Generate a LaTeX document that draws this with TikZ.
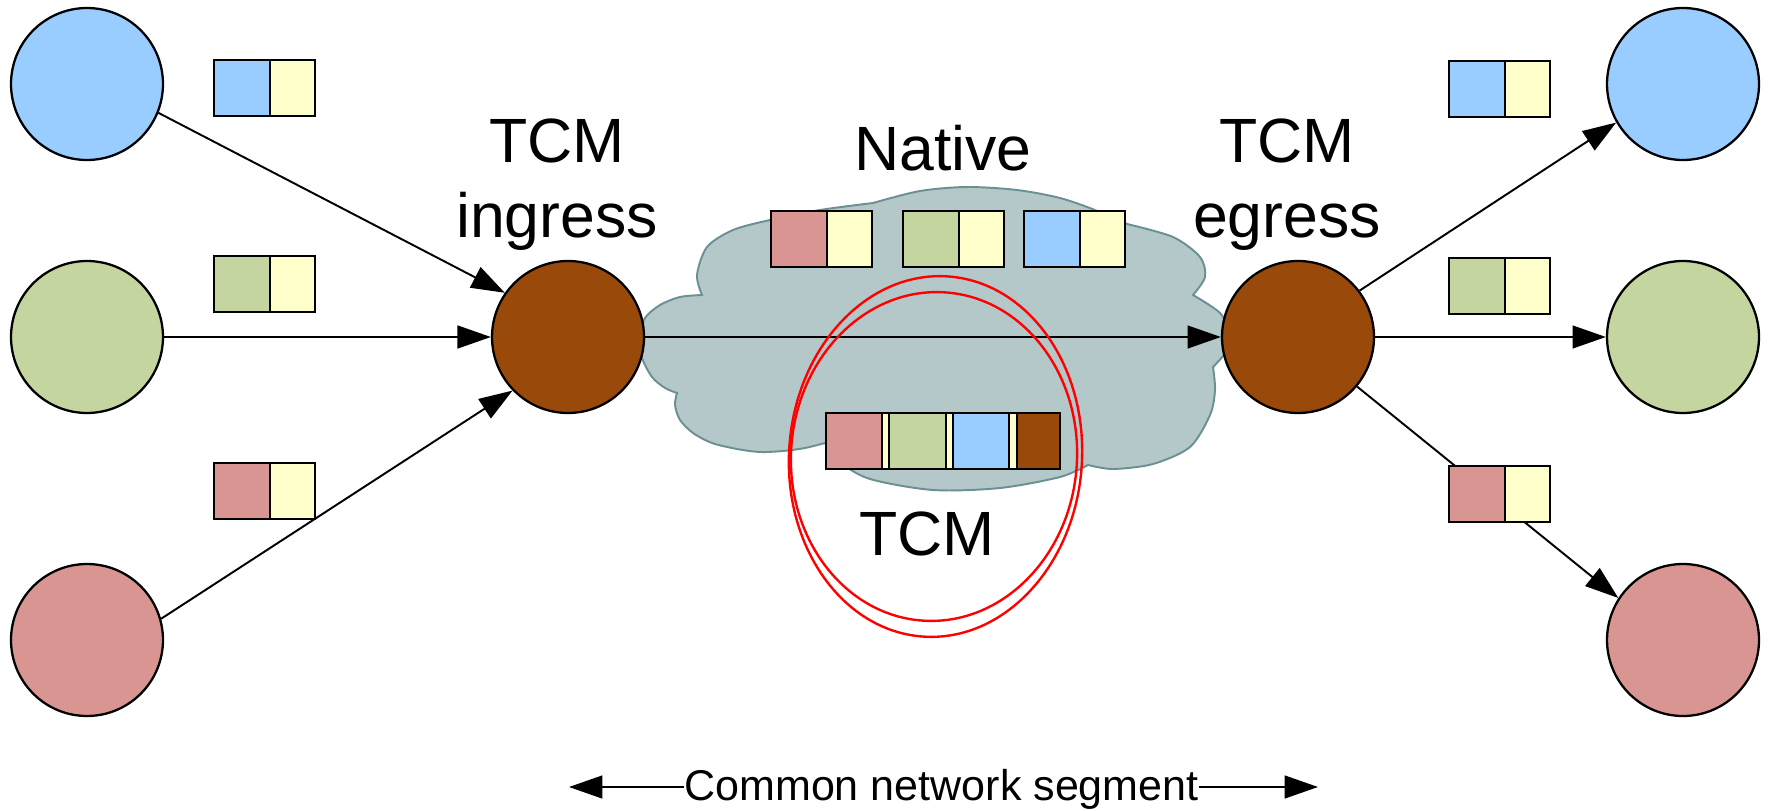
\documentclass[tikz,border=0pt]{standalone}
\usepackage{fontspec}
\setmainfont{Liberation Sans}
\usetikzlibrary{arrows.meta}
\definecolor{cBlue}{RGB}{153,204,255}
\definecolor{cGreen}{RGB}{196,213,160}
\definecolor{cRed}{RGB}{217,149,146}
\definecolor{cYel}{RGB}{255,255,204}
\definecolor{cBrown}{RGB}{153,73,10}
\definecolor{cloudF}{RGB}{180,199,201}
\definecolor{cloudE}{RGB}{107,144,148}
\newcommand{\twocell}[3]{%
  \draw[pk,fill=#3] (#1,#2) rectangle ++(56,56);
  \draw[pk,fill=cYel] (#1,#2) ++(56,0) rectangle ++(45,56);}
\begin{document}
\begin{tikzpicture}[x=0.02cm,y=-0.02cm,
  host/.style={circle,draw=black,line width=1.3pt,minimum size=3.04cm,inner sep=0pt},
  conn/.style={line width=1.1pt,-{Triangle[length=19pt,width=13pt]}},
  pk/.style={draw=black,line width=1.3pt},
  big/.style={font=\fontsize{35.6}{42.5}\selectfont,inner sep=0pt,anchor=base},
  ring/.style={draw=red,line width=1.35pt}]
\useasboundingbox (0,0) rectangle (1771,811);
% cloud
\filldraw[fill=cloudF,draw=cloudE,line width=1.1pt]
  plot[smooth] coordinates {(873,203) (820,210) (770,220) (733,230) (707,247) (697,275) (702,295)}
  -- plot[smooth] coordinates {(702,295) (680,297) (660,305) (645,318) (639,338) (642,358) (652,377) (665,388) (677,393)}
  -- plot[smooth] coordinates {(677,393) (675,405) (680,420) (693,433) (712,443) (737,449) (760,452) (783,451) (805,448) (825,443)}
  -- plot[smooth] coordinates {(825,443) (840,462) (870,479) (933,490) (1000,488) (1060,477) (1088,465)}
  -- plot[smooth] coordinates {(1088,465) (1113,469) (1153,464) (1190,447) (1210,415) (1215,390) (1213,367)}
  -- plot[smooth] coordinates {(1213,367) (1226,352) (1231,335) (1220,313) (1193,295)}
  -- plot[smooth] coordinates {(1193,295) (1205,277) (1200,257) (1173,237) (1127,224)}
  -- plot[smooth] coordinates {(1127,224) (1095,210) (1060,198) (1017,190) (967,187) (920,191) (873,203)}
  -- cycle;
% hosts
\node[host,fill=cBlue]  (bl)  at (87,84)   {};
\node[host,fill=cGreen] (gl)  at (87,337)  {};
\node[host,fill=cRed]   (rl)  at (87,640)  {};
\node[host,fill=cBrown] (ing) at (568,337) {};
\node[host,fill=cBrown] (egr) at (1298,337) {};
\node[host,fill=cBlue]  (br)  at (1683,84)  {};
\node[host,fill=cGreen] (gr)  at (1683,337) {};
\node[host,fill=cRed]   (rr)  at (1683,640) {};
% connectors
\draw[conn] (bl.-22) -- (ing.145);
\draw[conn] (gl) -- (ing);
\draw[conn] (rl.16) -- (ing.224);
\draw[conn] (ing) -- (egr);
\draw[conn] (egr.37) -- (br.210);
\draw[conn] (egr) -- (gr);
\draw[conn] (egr.-40) -- (rr.147);
% packets
\twocell{214}{60}{cBlue}
\twocell{214}{256}{cGreen}
\twocell{214}{463}{cRed}
\twocell{1449}{61}{cBlue}
\twocell{1449}{258}{cGreen}
\twocell{1449}{466}{cRed}
\twocell{771}{211}{cRed}
\twocell{903}{211}{cGreen}
\twocell{1024}{211}{cBlue}
% TCM packet
\draw[pk,fill=cRed] (826,413) rectangle (882,469);
\draw[pk,fill=cYel] (882,413) rectangle (889,469);
\draw[pk,fill=cGreen] (889,413) rectangle (946,469);
\draw[pk,fill=cYel] (946,413) rectangle (953,469);
\draw[pk,fill=cBlue] (953,413) rectangle (1009,469);
\draw[pk,fill=cYel] (1009,413) rectangle (1017,469);
\draw[pk,fill=cBrown] (1017,413) rectangle (1060,469);
% red rings
\draw[ring,rotate around={-4:(935.5,456.5)}] (935.5,456.5) ellipse [x radius=146.5, y radius=180.5];
\draw[ring,rotate around={-4:(934,456.5)}] (934,456.5) ellipse [x radius=143, y radius=164.5];
% labels
\node[big] (ti1) at (557,162) {TCM};
\node[big] (ti2) at (557,237) {ingress};
\node[big] (te1) at (1287,162) {TCM};
\node[big] (te2) at (1287,237) {egress};
\node[big] (nat) at (943,171) {Native};
\node[big] (tcm) at (927,555) {TCM};
\node[font=\fontsize{24.5}{29}\selectfont,inner sep=0pt,anchor=base] (seg) at (941.5,800) {Common network segment};
\coordinate (sl) at (569,787);
\coordinate (sr) at (1318,787);
\draw[conn] (seg.west |- sl) -- (sl);
\draw[conn] (seg.east |- sr) -- (sr);
\end{tikzpicture}
\end{document}
